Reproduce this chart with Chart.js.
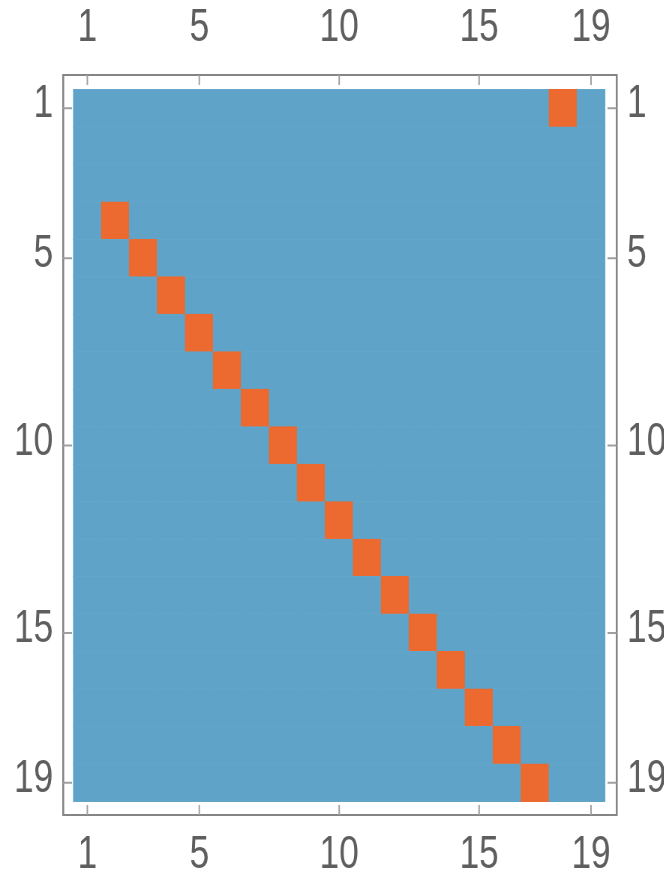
<!DOCTYPE html>
<html>
<head>
<meta charset="utf-8">
<script src="https://cdn.jsdelivr.net/npm/chart.js@4.4.0/dist/chart.umd.min.js"></script>
<style>
  html, body { margin: 0; padding: 0; background: #fff; overflow: hidden; }
  /* the reference is squeezed sideways, so the chart is drawn wider and narrowed */
  #matrixCanvas { display: block; transform: scaleX(0.75); transform-origin: 0 0; }
</style>
</head>
<body>
<canvas id="matrixCanvas" width="885" height="878"></canvas>
<script>
// Matrix size and tick labels
const rowCount = 19;
const colCount = 19;
const colTicks = [1, 5, 10, 15, 19];
const rowTicks = [1, 5, 10, 15, 19];

// Orange (non-zero) cells: row / column pairs
const hitRows = [1, 4, 5, 6, 7, 8, 9, 10, 11, 12, 13, 14, 15, 16, 17, 18, 19];
const hitCols = [18, 2, 3, 4, 5, 6, 7, 8, 9, 10, 11, 12, 13, 14, 15, 16, 17];

const BLUE = '#5fa3c8';
const ORANGE = '#ec692f';
const FRAME = '#858585';
const TICK_FONT = { family: "'Liberation Sans', Arial, sans-serif", size: 47 };

// Build the cell list: one floating bar per cell
const cells = [];
for (let r = 1; r <= rowCount; r++) {
    for (let c = 1; c <= colCount; c++) {
        let hit = 0;
        for (let k = 0; k < hitRows.length; k++) {
            if (hitRows[k] === r && hitCols[k] === c) hit = 1;
        }
        cells.push({ x: c, y: [r - 0.5, r + 0.5], v: hit });
    }
}

function axisFor(position, ticksList, isX, size, padding, lineWidth) {
    const count = isX ? colCount : rowCount;
    return {
        type: 'linear',
        position: position,
        reverse: !isX,
        offset: false,
        min: isX ? 0.13 : 0.11,
        max: isX ? count + 0.91 : count + 0.86,
        afterBuildTicks: function(scale) {
            scale.ticks = ticksList.map(v => ({ value: v }));
        },
        afterFit: function(scale) {
            if (isX) scale.height = size; else scale.width = size;
        },
        grid: { display: false, drawTicks: false },
        border: { display: true, color: FRAME, width: lineWidth },
        ticks: {
            font: TICK_FONT,
            color: '#5e5e5e',
            padding: padding,
            labelOffset: isX ? 0 : -4,
            autoSkip: false,
            maxRotation: 0,
            callback: v => String(v)
        }
    };
}

// Small tick marks pointing into the frame
const innerTicks = {
    id: 'innerTicks',
    afterDraw(chart) {
        const ctx = chart.ctx;
        const a = chart.chartArea;
        ctx.save();
        ctx.strokeStyle = '#a0a0a0';
        ctx.lineWidth = 2;
        ctx.beginPath();
        colTicks.forEach(v => {
            const px = chart.scales.x.getPixelForValue(v);
            ctx.moveTo(px, a.top); ctx.lineTo(px, a.top + 10);
            ctx.moveTo(px, a.bottom); ctx.lineTo(px, a.bottom - 10);
        });
        rowTicks.forEach(v => {
            const py = chart.scales.y.getPixelForValue(v);
            ctx.moveTo(a.left, py); ctx.lineTo(a.left + 12, py);
            ctx.moveTo(a.right, py); ctx.lineTo(a.right - 12, py);
        });
        ctx.stroke();
        ctx.restore();
    }
};

new Chart(document.getElementById('matrixCanvas').getContext('2d'), {
    type: 'bar',
    data: {
        datasets: [{
            data: cells,
            backgroundColor: ctx => (ctx.raw && ctx.raw.v ? ORANGE : BLUE),
            borderColor: ctx => (ctx.raw && ctx.raw.v ? ORANGE : '#63a6ca'),
            borderWidth: 1,
            borderSkipped: false,
            inflateAmount: 0.6,
            barPercentage: 1,
            categoryPercentage: 1,
            xAxisID: 'x',
            yAxisID: 'y'
        }]
    },
    options: {
        responsive: false,
        devicePixelRatio: 1,
        animation: false,
        layout: { padding: 0 },
        plugins: {
            legend: { display: false },
            tooltip: { enabled: false }
        },
        scales: {
            x: axisFor('bottom', colTicks, true, 63, 12, 2),
            x2: axisFor('top', colTicks, true, 75, 19, 2),
            y: axisFor('left', rowTicks, false, 84, 13, 2.6),
            y2: axisFor('right', rowTicks, false, 63, 14, 2.6)
        }
    },
    plugins: [innerTicks]
});
</script>
</body>
</html>
